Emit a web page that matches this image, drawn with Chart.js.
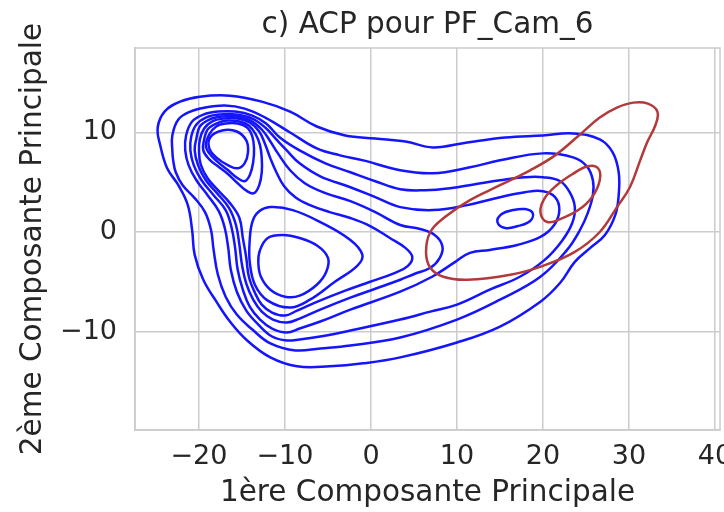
<!DOCTYPE html>
<html lang="fr">
<head>
<meta charset="utf-8">
<title>ACP pour PF_Cam_6</title>
<script src="https://cdn.jsdelivr.net/npm/chart.js@4.4.1/dist/chart.umd.min.js"></script>
<style>
  html, body { margin: 0; padding: 0; background: #ffffff; overflow: hidden; }
  #acpChart { display: block; }
</style>
</head>
<body>
<canvas id="acpChart" width="760" height="512"></canvas>
<script>
// Contours de densité (KDE) : [composante 1, composante 2]
// Classe bleue : niveaux du plus bas (extérieur) au plus haut
const bleuNiveau1 = [[-24.5, 8.7], [-24.8, 10.5], [-24.0, 12.1], [-22.2, 13.1], [-19.9, 13.6], [-16.4, 13.7], [-12.7, 13.1], [-9.4, 12.1], [-6.3, 10.6], [-3.0, 9.7], [0.5, 9.4], [4.0, 9.1], [7.2, 8.5], [11.2, 9.0], [15.6, 9.5], [20.0, 9.7], [23.5, 9.9], [26.6, 9.3], [28.1, 8.0], [28.8, 6.0], [28.8, 3.7], [28.4, 1.7], [27.2, -0.3], [25.5, -1.6], [23.7, -3.0], [22.0, -5.1], [19.7, -7.0], [15.0, -9.5], [10.0, -11.1], [3.4, -12.6], [-0.9, -13.2], [-4.8, -13.5], [-8.6, -13.5], [-11.7, -12.6], [-14.4, -10.9], [-16.4, -9.0], [-17.9, -7.1], [-19.5, -4.8], [-20.5, -2.3], [-20.8, 0.2], [-21.3, 2.7], [-22.4, 4.7], [-23.7, 6.4]];
const bleuNiveau2 = [[-23.1, 8.2], [-23.1, 9.7], [-22.4, 11.3], [-21.0, 12.1], [-19.3, 12.5], [-17.0, 12.7], [-14.7, 12.4], [-12.3, 11.5], [-9.4, 10.0], [-6.3, 8.4], [-3.6, 7.7], [-0.9, 7.2], [3.4, 6.2], [7.2, 5.9], [11.5, 6.5], [15.0, 7.2], [20.0, 7.9], [23.5, 7.5], [25.1, 6.6], [25.8, 5.2], [25.8, 3.7], [25.2, 1.9], [24.3, 0.2], [22.8, -1.8], [19.7, -4.5], [15.0, -6.8], [10.0, -8.8], [3.4, -10.6], [-2.4, -11.4], [-5.9, -11.7], [-8.8, -11.9], [-11.7, -11.2], [-13.8, -9.8], [-15.6, -8.3], [-16.9, -6.5], [-17.8, -4.3], [-18.3, -1.8], [-18.6, 0.2], [-19.3, 2.0], [-20.5, 3.4], [-21.9, 4.7], [-22.7, 6.0], [-23.0, 7.2]];
const bleuNiveau3 = [[-21.6, 8.2], [-21.5, 9.7], [-20.8, 11.1], [-19.5, 11.8], [-17.8, 12.1], [-15.8, 12.1], [-13.8, 11.7], [-12.2, 10.9], [-10.6, 9.5], [-8.3, 8.2], [-5.3, 6.9], [-2.4, 6.0], [0.5, 5.1], [3.4, 4.3], [6.3, 4.2], [9.2, 4.4], [12.1, 4.8], [15.0, 5.2], [17.9, 5.5], [20.0, 5.5], [22.0, 5.1], [23.1, 4.0], [23.7, 2.5], [23.4, 0.9], [22.2, -0.9], [20.2, -2.8], [17.3, -4.5], [13.8, -5.8], [10.0, -7.3], [6.9, -8.0], [3.4, -8.8], [-2.4, -9.9], [-5.9, -10.5], [-8.3, -10.8], [-9.8, -10.9], [-11.5, -10.5], [-13.1, -9.3], [-14.5, -7.9], [-15.6, -6.0], [-16.3, -3.8], [-16.6, -1.6], [-17.0, 0.4], [-17.7, 2.1], [-19.0, 3.7], [-20.3, 5.2], [-21.2, 6.7]];
const bleuNiveau4 = [[-21.0, 8.2], [-20.9, 9.6], [-20.3, 10.8], [-19.2, 11.5], [-17.6, 11.8], [-15.7, 11.8], [-13.8, 11.4], [-12.3, 10.5], [-10.9, 9.2], [-9.8, 8.2], [-8.3, 6.9], [-5.9, 5.6], [-2.4, 4.5], [0.5, 3.5], [3.4, 2.5], [7.2, 2.2], [11.2, 2.7], [15.0, 3.5], [17.9, 4.0], [20.0, 4.1], [21.4, 3.5], [21.9, 2.2], [21.3, 0.7], [19.7, -0.5], [17.0, -1.3], [13.8, -1.8], [11.5, -2.1], [9.8, -3.0], [7.1, -4.5], [3.4, -6.0], [-2.4, -7.8], [-5.9, -9.0], [-8.3, -9.7], [-9.8, -10.1], [-11.5, -9.7], [-12.9, -8.8], [-14.1, -7.5], [-14.9, -5.8], [-15.5, -3.8], [-15.8, -1.6], [-16.2, 0.4], [-16.9, 2.2], [-18.3, 3.7], [-19.7, 5.2], [-20.6, 6.7]];
const bleuNiveau5 = [[-20.5, 8.2], [-20.3, 9.4], [-19.9, 10.6], [-18.8, 11.3], [-17.3, 11.6], [-15.6, 11.6], [-14.0, 11.2], [-12.7, 10.3], [-11.7, 9.1], [-10.9, 8.0], [-9.4, 6.2], [-7.7, 4.9], [-5.3, 3.9], [-2.4, 3.1], [0.5, 2.0], [3.4, 0.7], [5.7, 0.3], [7.4, -0.3], [8.3, -1.4], [8.0, -2.6], [6.9, -3.6], [5.1, -4.2], [3.4, -4.8], [0.5, -5.7], [-2.4, -6.6], [-5.9, -7.8], [-8.3, -8.7], [-9.8, -9.1], [-11.4, -8.8], [-12.7, -8.0], [-13.7, -6.8], [-14.5, -5.2], [-15.0, -3.3], [-15.3, -1.3], [-15.7, 0.7], [-16.5, 2.4], [-17.9, 3.9], [-19.2, 5.2], [-20.1, 6.7]];
const bleuPicDroit = [[14.7, 1.0], [15.2, 1.8], [16.5, 2.2], [17.9, 2.3], [18.8, 1.9], [18.5, 1.1], [17.1, 0.6], [15.6, 0.4]];
const bleuNiveau6 = [[-20.0, 8.2], [-19.9, 9.3], [-19.4, 10.4], [-18.5, 11.1], [-17.1, 11.4], [-15.5, 11.4], [-14.1, 11.0], [-13.0, 10.1], [-12.3, 8.8], [-11.7, 7.4], [-11.0, 6.0], [-10.1, 4.6], [-8.8, 3.5], [-7.1, 2.7], [-4.8, 2.0], [-2.4, 1.4], [-0.1, 0.6], [2.2, -0.6], [4.0, -1.6], [4.8, -2.5], [4.3, -3.4], [2.8, -4.1], [-0.1, -5.0], [-3.0, -5.9], [-6.5, -7.1], [-8.6, -7.9], [-10.0, -8.4], [-11.5, -8.1], [-12.7, -7.3], [-13.5, -6.1], [-14.2, -4.5], [-14.5, -2.6], [-14.9, -0.6], [-15.3, 1.4], [-16.4, 2.9], [-17.8, 4.2], [-19.0, 5.4], [-19.8, 6.8]];
const bleuNiveau7Haut = [[-19.5, 8.2], [-19.4, 9.3], [-19.0, 10.3], [-18.0, 10.9], [-16.7, 11.2], [-15.3, 11.1], [-14.2, 10.7], [-13.4, 9.8], [-12.9, 8.7], [-12.7, 7.4], [-12.7, 6.0], [-13.0, 4.7], [-13.6, 3.9], [-14.4, 4.1], [-15.5, 4.9], [-16.6, 5.8], [-17.8, 6.6], [-18.8, 7.3]];
const bleuNiveau7Bas = [[-13.8, 1.0], [-13.1, 2.0], [-11.7, 2.5], [-9.1, 2.2], [-5.9, 1.0], [-2.4, -0.8], [-1.0, -2.3], [-1.6, -3.4], [-4.2, -5.0], [-7.1, -6.8], [-9.4, -7.6], [-12.0, -6.9], [-13.5, -5.3], [-14.1, -3.0], [-14.1, -0.8]];
const bleuNiveau8Haut = [[-19.2, 8.7], [-18.8, 9.8], [-18.0, 10.6], [-16.9, 10.9], [-15.5, 10.9], [-14.4, 10.5], [-13.8, 9.6], [-13.6, 8.4], [-13.7, 7.0], [-14.1, 5.7], [-14.7, 5.1], [-15.5, 5.4], [-16.6, 6.2], [-17.9, 7.1], [-18.8, 7.9]];
const bleuNiveau8Bas = [[-12.9, -1.8], [-12.0, -0.6], [-10.3, -0.3], [-8.3, -0.6], [-6.2, -1.4], [-5.0, -2.6], [-5.2, -4.0], [-6.3, -5.3], [-8.3, -6.4], [-10.0, -6.5], [-11.7, -5.8], [-12.8, -4.5], [-13.1, -3.1]];
const bleuNiveau9 = [[-18.7, 9.5], [-17.3, 10.2], [-15.6, 10.1], [-14.5, 9.2], [-14.3, 8.0], [-14.7, 6.9], [-15.5, 6.4], [-16.6, 6.7], [-18.0, 7.5], [-18.8, 8.4]];

// Classe rouge : deux niveaux
const rougeNiveau1 = [[30.5, 13.0], [32.2, 12.9], [33.3, 12.1], [33.1, 10.8], [32.1, 9.0], [31.3, 7.2], [30.1, 4.5], [28.6, 2.5], [26.6, 0.0], [23.7, -2.0], [20.0, -3.4], [16.2, -4.3], [11.2, -4.8], [8.4, -4.5], [6.9, -3.6], [6.4, -2.0], [6.9, 0.0], [8.6, 1.5], [11.5, 3.2], [15.0, 4.7], [18.5, 6.2], [21.4, 7.7], [24.3, 9.8], [26.6, 11.5], [28.6, 12.5]];
const rougeNiveau2 = [[19.7, 2.0], [20.2, 3.4], [21.6, 4.7], [23.4, 5.8], [25.2, 6.6], [26.4, 6.4], [26.6, 5.2], [25.7, 3.5], [24.1, 2.2], [22.0, 1.3], [20.5, 1.0]];

// Graduations des axes
const ticksX = [-20, -10, 0, 10, 20, 30, 40];
const ticksY = [-10, 0, 10];

const contoursBleus = [bleuNiveau1, bleuNiveau2, bleuNiveau3, bleuNiveau4, bleuNiveau5, bleuPicDroit,
  bleuNiveau6, bleuNiveau7Haut, bleuNiveau7Bas, bleuNiveau8Haut, bleuNiveau8Bas, bleuNiveau9];
const contoursRouges = [rougeNiveau1, rougeNiveau2];

const couleurTexte = '#262626';
const couleurGrille = '#cccccc';
const police = 'DejaVu Sans';

function versPoints(contour) {
  return contour.map(([x, y]) => ({ x: x, y: y }));
}

function jeuContour(contour, couleur) {
  return {
    data: versPoints(contour),
    borderColor: couleur,
    borderWidth: 2.5,
    pointRadius: 0,
    tension: 0.4,
    spanGaps: true,
    fill: false
  };
}

// Le premier jeu est dessiné au-dessus : rouge d'abord
const datasets = [
  ...contoursRouges.map(c => jeuContour(c, '#b23a3a')),
  ...contoursBleus.map(c => jeuContour(c, '#1414ff'))
];

// Fermer chaque contour (courbe bouclée)
const bouclePlugin = {
  id: 'boucle',
  afterDatasetUpdate(chart, args) {
    const ligne = args.meta.dataset;
    if (ligne) {
      ligne._loop = true;
      ligne._fullLoop = true;
    }
  }
};

// Cadre gris autour de la zone de tracé
const cadrePlugin = {
  id: 'cadre',
  beforeDatasetsDraw(chart) {
    const { ctx, chartArea: a } = chart;
    ctx.save();
    ctx.strokeStyle = couleurGrille;
    ctx.lineWidth = 1.5;
    ctx.strokeRect(a.left, a.top, a.right - a.left, a.bottom - a.top);
    ctx.restore();
  }
};

function signeMoins(v) {
  return v < 0 ? '\u2212' + Math.abs(v) : String(v);
}

const acpCtx = document.getElementById('acpChart').getContext('2d');
const acpChart = new Chart(acpCtx, {
  type: 'line',
  data: { datasets: datasets },
  options: {
    responsive: false,
    animation: false,
    devicePixelRatio: 1,
    layout: { padding: { right: 40 } },
    plugins: {
      legend: { display: false },
      tooltip: { enabled: false },
      title: {
        display: true,
        text: 'c) ACP pour PF_Cam_6',
        fullSize: false,
        color: couleurTexte,
        font: { family: police, size: 29.5, weight: 'normal' },
        padding: { top: 8, bottom: 4.6 }
      }
    },
    scales: {
      x: {
        type: 'linear',
        min: -27.44,
        max: 40.58,
        afterBuildTicks(scale) {
          scale.ticks = ticksX.map(v => ({ value: v }));
        },
        ticks: {
          includeBounds: false,
          color: couleurTexte,
          font: { family: police, size: 27 },
          padding: 11,
          maxRotation: 0,
          callback: signeMoins
        },
        grid: { color: couleurGrille, lineWidth: 1.5, drawTicks: false },
        border: { display: true, color: couleurGrille, width: 1.5 },
        title: {
          display: true,
          text: '1ère Composante Principale',
          color: couleurTexte,
          font: { family: police, size: 29.5 },
          padding: { top: 0, bottom: 1 }
        },
        afterFit(scale) { scale.height = 82; }
      },
      y: {
        type: 'linear',
        min: -19.9,
        max: 18.49,
        afterBuildTicks(scale) {
          scale.ticks = ticksY.map(v => ({ value: v }));
        },
        ticks: {
          includeBounds: false,
          color: couleurTexte,
          font: { family: police, size: 27 },
          padding: 18,
          callback: signeMoins
        },
        grid: { color: couleurGrille, lineWidth: 1.5, drawTicks: false },
        border: { display: true, color: couleurGrille, width: 1.5 },
        title: {
          display: true,
          text: '2ème Composante Principale',
          color: couleurTexte,
          font: { family: police, size: 29.5 },
          padding: { top: 16, bottom: 0 }
        },
        afterFit(scale) { scale.width = 135; }
      }
    }
  },
  plugins: [bouclePlugin, cadrePlugin]
});
</script>
</body>
</html>
